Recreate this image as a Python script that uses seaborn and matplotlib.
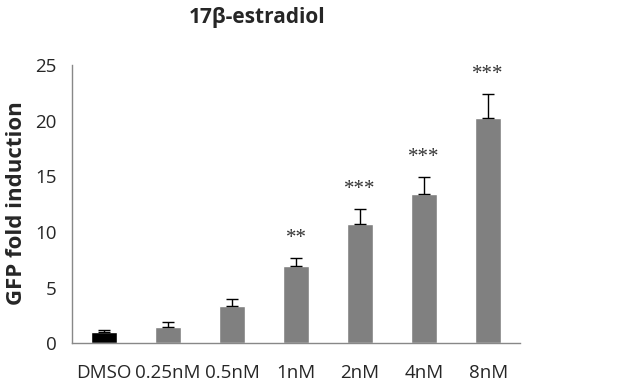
import seaborn as sns
import matplotlib.pyplot as plt
import pandas as pd
import numpy as np

categories = ['DMSO', '0.25nM', '0.5nM', '1nM', '2nM', '4nM', '8nM']
means = [1.05, 1.5, 3.35, 6.95, 10.7, 13.45, 20.25]
errors = [0.15, 0.4, 0.65, 0.75, 1.35, 1.5, 2.15]
stars = ['', '', '', '**', '***', '***', '***']
colors = ['#000000', '#808080', '#808080', '#808080', '#808080', '#808080', '#808080']

df = pd.DataFrame({'Sample': categories, 'mean': means})

sns.set_style('white')
plt.rcParams['font.family'] = ['Open Sans', 'DejaVu Sans']

fig = plt.figure(figsize=(6.2, 3.89), dpi=100)
ax = fig.add_axes([0.116, 0.1175, 0.723, 0.7155])

sns.barplot(x='Sample', y='mean', data=df, hue='Sample', palette=colors,
            legend=False, width=0.4, errorbar=None, ax=ax, saturation=1)

# tylko górne słupki błędów
x = np.arange(len(categories))
ax.errorbar(x, means, yerr=[np.zeros(len(errors)), errors], fmt='none',
            ecolor='black', elinewidth=1, capsize=4, capthick=1)

# gwiazdki istotności nad słupkami błędów
for i, s in enumerate(stars):
    if s:
        ax.text(i, means[i] + errors[i] + 0.9, s, ha='center', va='bottom',
                fontsize=15, color='#333333', family='Liberation Serif')

ax.set_ylim(0, 25)
ax.set_xlim(-0.5, len(categories) - 0.5)
ax.set_yticks(np.arange(0, 26, 5))
ax.tick_params(axis='y', length=5, color='#888888', labelsize=13.5, pad=6)
ax.tick_params(axis='x', which='major', length=0, labelsize=13.5, pad=15)
ax.set_xticks(np.arange(-0.5, len(categories), 1), minor=True)
ax.tick_params(axis='x', which='minor', length=6, color='#888888')

for side in ['top', 'right']:
    ax.spines[side].set_visible(False)
for side in ['left', 'bottom']:
    ax.spines[side].set_color('#888888')
    ax.spines[side].set_linewidth(1)

ax.set_xlabel('')
ax.set_ylabel('')
fig.text(0.027, 0.477, 'GFP fold induction', rotation=90, ha='center', va='center',
         fontsize=16, fontweight='bold')
fig.text(0.415, 0.955, '17β-estradiol', ha='center', va='center',
         fontsize=15, fontweight='bold')

plt.savefig('out.png', dpi=100)
